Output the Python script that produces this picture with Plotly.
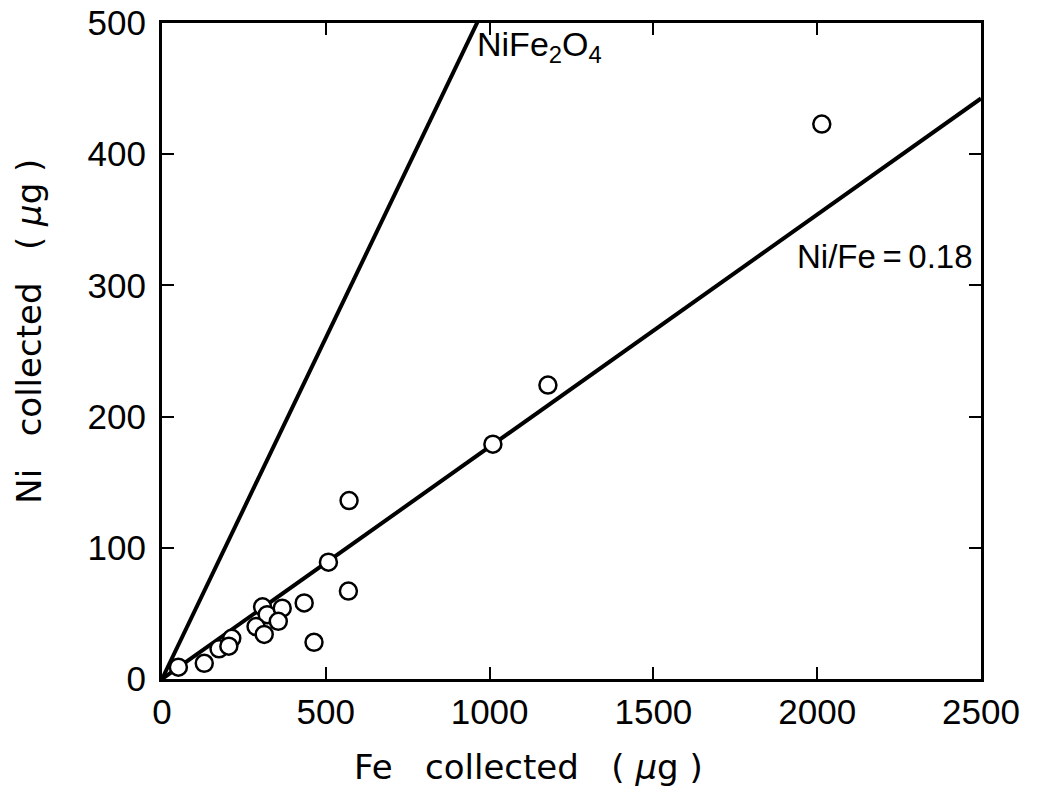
import plotly.graph_objects as go

# ---- data ----
fe_collected = [2014, 1178, 1010, 571, 508, 569, 434, 464, 307, 321, 367, 355,
                287, 312, 213, 174, 204, 129, 50]
ni_collected = [423, 224, 179, 136, 89, 67, 58, 28, 55, 49, 54, 44,
                40, 34, 31, 23, 25, 12, 9]

line_fe = [0, 2500]
ratio_nife2o4 = 0.52      # NiFe2O4 stoichiometric line
ratio_fit = 0.177         # drawn Ni/Fe = 0.18 line

x_ticks = [0, 500, 1000, 1500, 2000, 2500]
y_ticks = [0, 100, 200, 300, 400, 500]

FONT = "Liberation Sans, Arial, sans-serif"
TITLE_FONT = "DejaVu Sans, Liberation Sans, sans-serif"
SP = "\u00a0"

fig = go.Figure()

fig.add_trace(go.Scatter(
    x=line_fe, y=[v * ratio_nife2o4 for v in line_fe], mode="lines",
    line=dict(color="black", width=4), showlegend=False, cliponaxis=True))
fig.add_trace(go.Scatter(
    x=line_fe, y=[v * ratio_fit for v in line_fe], mode="lines",
    line=dict(color="black", width=4), showlegend=False, cliponaxis=True))
fig.add_trace(go.Scatter(
    x=fe_collected, y=ni_collected, mode="markers",
    marker=dict(symbol="circle", size=17, color="white",
                line=dict(color="black", width=2.5)),
    showlegend=False, cliponaxis=False))

axis_common = dict(
    showgrid=False, zeroline=False, showline=True, linecolor="black", linewidth=3,
    mirror="allticks", ticks="inside", ticklen=12, tickwidth=2, tickcolor="black",
    tickfont=dict(family=FONT, size=35, color="black"),
    automargin=False, ticklabeloverflow="allow",
)

fig.update_xaxes(range=[0, 2500], tickvals=x_ticks, ticktext=[str(v) for v in x_ticks],
                 ticklabelstandoff=0, **axis_common)
fig.update_yaxes(range=[0, 500], tickvals=y_ticks, ticktext=[str(v) for v in y_ticks],
                 ticklabelstandoff=6, **axis_common)

fig.add_annotation(x=955, y=482, xref="x", yref="y", text="NiFe<sub>2</sub>O<sub>4</sub>",
                   showarrow=False, xanchor="left", yanchor="middle",
                   font=dict(family=FONT, size=34, color="black"))
fig.add_annotation(x=1932, y=322, xref="x", yref="y", text="Ni/Fe\u2009=\u20090.18",
                   showarrow=False, xanchor="left", yanchor="middle",
                   font=dict(family=FONT, size=33, color="black"))

unit = "(" + SP + "<i>\u03bc</i>g" + SP + ")"
fig.add_annotation(x=0.448, y=-0.134, xref="paper", yref="paper",
                   text="Fe" + SP * 3 + "collected" + SP * 3 + unit,
                   showarrow=False, xanchor="center", yanchor="middle",
                   font=dict(family=TITLE_FONT, size=34, color="black"))
fig.add_annotation(x=-0.162, y=0.53, xref="paper", yref="paper",
                   text="Ni" + SP * 3 + "collected" + SP * 3 + unit,
                   textangle=-90, showarrow=False, xanchor="center", yanchor="middle",
                   font=dict(family=TITLE_FONT, size=34, color="black"))

# page body adds an 8px margin; keep the figure inside the 1038x801 window
fig.update_layout(
    width=1022, height=785,
    margin=dict(l=154, r=49, t=15, b=114),
    paper_bgcolor="white", plot_bgcolor="white",
    font=dict(family=FONT, color="black"),
)

fig.write_html("out.html")
